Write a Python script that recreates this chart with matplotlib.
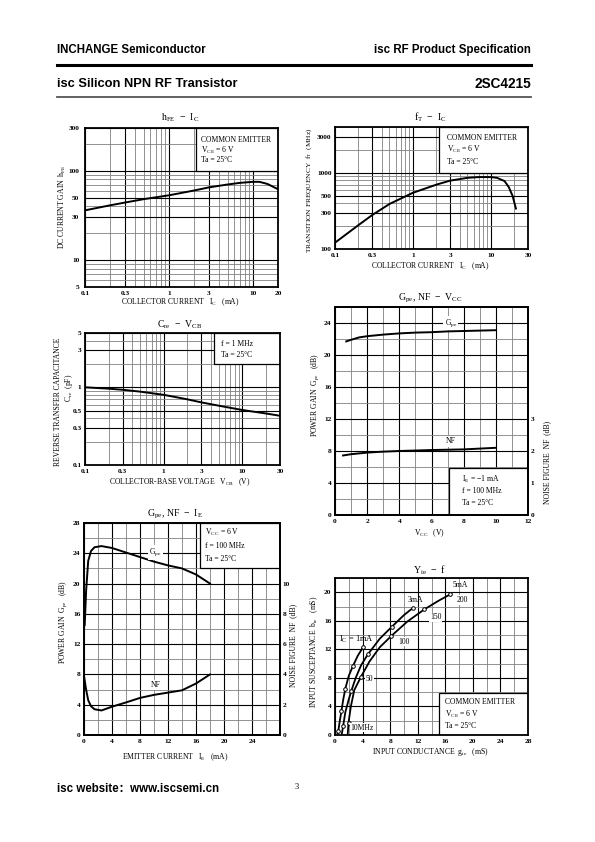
import numpy as np
import matplotlib
matplotlib.use('Agg')
import matplotlib.pyplot as plt
from matplotlib.patches import Rectangle
from matplotlib.ticker import FixedLocator, NullFormatter, FixedFormatter

plt.rcParams['font.family'] = ['Liberation Serif', 'DejaVu Serif']
plt.rcParams['mathtext.fontset'] = 'stix'

# ---------------- data ----------------
# hFE - IC
hfe_ic = [0.1, 0.2, 0.3, 0.5, 1, 2, 3, 5, 7, 10, 12, 15, 20]
hfe_val = [36, 41, 44, 48, 53, 60, 65, 70, 73, 75, 75, 71, 62]
# fT - IC
ft_ic = [0.1, 0.2, 0.3, 0.5, 1, 2, 3, 5, 7, 10, 12, 15, 17, 19, 21]
ft_val = [121, 206, 279, 390, 547, 700, 790, 860, 880, 880, 860, 780, 650, 500, 340]
# Cre - VCB
cre_vcb = [0.1, 0.2, 0.3, 0.5, 1, 2, 3, 5, 10, 20, 30]
cre_val = [1.0, 0.96, 0.93, 0.88, 0.80, 0.70, 0.64, 0.58, 0.51, 0.46, 0.43]
# Gpe, NF - VCC
vcc_g = [0.7, 1, 1.5, 2, 3, 4, 5, 6, 7, 8, 9, 10]
gpe_vcc = [21.7, 21.9, 22.2, 22.35, 22.55, 22.7, 22.8, 22.85, 22.95, 23.0, 23.05, 23.1]
vcc_nf = [0.5, 1, 2, 3, 4, 6, 8, 10]
nf_vcc = [1.86, 1.9, 1.95, 1.98, 2.0, 2.03, 2.05, 2.1]
# Gpe, NF - IE
ie_g = [0.1, 0.3, 0.6, 1, 1.5, 2.5, 4, 6, 8, 10, 12, 14, 16, 18]
gpe_ie = [14.5, 19.0, 23.0, 24.3, 24.8, 24.95, 24.7, 24.1, 23.5, 22.9, 22.4, 22.0, 21.2, 20.0]
ie_nf = [0.0, 0.3, 0.6, 1, 1.5, 2.5, 4, 6, 8, 10, 12, 14, 16, 18]
nf_ie = [3.9, 3.0, 2.3, 1.9, 1.7, 1.62, 1.87, 2.15, 2.45, 2.65, 2.8, 2.95, 3.4, 4.0]
# Yie - f  (gie, bie) curves for IC = 1, 3, 5 mA
g_1ma = [0.37, 0.47, 0.7, 0.94, 1.2, 1.5, 2.0, 2.57, 3.3, 4.07]
b_1ma = [0.2, 0.5, 2.0, 3.4, 5.0, 6.5, 8.3, 9.6, 11.1, 12.3]
g_3ma = [1.0, 1.17, 1.5, 2.0, 2.34, 3.0, 3.8, 4.77, 6.5, 8.28, 10.0, 11.3]
b_3ma = [0.2, 1.2, 3.2, 5.0, 6.1, 8.0, 9.8, 11.3, 13.5, 15.2, 16.8, 17.8]
g_5ma = [1.85, 1.96, 2.3, 2.8, 3.74, 5.0, 6.5, 8.19, 10.5, 12.96, 15.0, 16.7]
b_5ma = [0.2, 1.7, 4.0, 6.3, 8.1, 10.3, 12.3, 13.9, 15.9, 17.6, 18.8, 19.7]
# frequency markers (10, 50, 100, 150, 200 MHz)
mk_g_1ma = [0.47, 0.94, 1.5, 2.57, 4.07]
mk_b_1ma = [0.5, 3.4, 6.5, 9.6, 12.3]
mk_g_3ma = [1.17, 2.34, 4.77, 8.28, 11.3]
mk_b_3ma = [1.2, 6.1, 11.3, 15.2, 17.8]
mk_g_5ma = [1.96, 3.74, 8.19, 12.96, 16.7]
mk_b_5ma = [1.7, 8.1, 13.9, 17.6, 19.7]

fig = plt.figure(figsize=(5.95, 8.42), dpi=100)

def px_axes(l, t, r, b):
    return fig.add_axes([l / 595, 1 - b / 842, (r - l) / 595, (b - t) / 842])

def T(x, y, s, **kw):
    kw.setdefault('ha', 'center')
    kw.setdefault('va', 'center')
    fig.text(x / 595, 1 - y / 842, s, **kw)

def log_minor(lo, hi):
    vals = []
    for e in range(-3, 5):
        for m in range(1, 10):
            v = m * 10.0 ** e
            if lo - 1e-9 <= v <= hi + 1e-9:
                vals.append(v)
    return vals

def style(ax, xmaj, xlab, ymaj, ylab, xmin, ymin):
    ax.xaxis.set_major_locator(FixedLocator(xmaj))
    ax.xaxis.set_major_formatter(FixedFormatter(xlab))
    ax.yaxis.set_major_locator(FixedLocator(ymaj))
    ax.yaxis.set_major_formatter(FixedFormatter(ylab))
    ax.xaxis.set_minor_locator(FixedLocator(xmin))
    ax.yaxis.set_minor_locator(FixedLocator(ymin))
    ax.xaxis.set_minor_formatter(NullFormatter())
    ax.yaxis.set_minor_formatter(NullFormatter())
    ax.grid(which='major', color='black', lw=0.8)
    ax.grid(which='minor', color='#808080', lw=0.6)
    ax.set_axisbelow(True)
    ax.tick_params(which='both', length=0, labelsize=5.3)
    ax.tick_params(axis='x', pad=3)
    ax.tick_params(axis='y', pad=2.5)
    for s in ax.spines.values():
        s.set_linewidth(1.3)
    for lab in ax.get_xticklabels() + ax.get_yticklabels():
        lab.set_fontweight('bold')

def box(ax, x0, y0, x1, y1):
    ax.add_patch(Rectangle((x0, y0), x1 - x0, y1 - y0, facecolor='white',
                           edgecolor='black', lw=0.9, zorder=1.5))

FS = 5.5

# ---------------- header / footer ----------------
hdr = ['Liberation Sans', 'DejaVu Sans']
T(57, 50, 'INCHANGE Semiconductor', ha='left', family=hdr, weight='bold', fontsize=8.3)
T(531, 50, 'isc RF Product Specification', ha='right', family=hdr, weight='bold', fontsize=8.3)
fig.add_artist(plt.Line2D([57 / 595, 531 / 595], [1 - 65 / 842] * 2, color='black', lw=2.2))
T(57, 84, 'isc Silicon NPN RF Transistor', ha='left', family=hdr, weight='bold', fontsize=9.3)
T(531, 84, '2SC4215', ha='right', family=hdr, weight='bold', fontsize=9.8)
fig.add_artist(plt.Line2D([57 / 595, 531 / 595], [1 - 97 / 842] * 2, color='#555555', lw=1.3))
T(57, 789, 'isc website：www.iscsemi.cn', ha='left',
  family=['Liberation Sans', 'Noto Sans CJK SC'], weight='bold', fontsize=8.3)
T(297, 787, '3', fontsize=6)

# ---------------- chart 1: hFE - IC ----------------
ax = px_axes(85, 128, 278, 287)
ax.set_xscale('log'); ax.set_yscale('log')
ax.set_xlim(0.1, 20); ax.set_ylim(5, 300)
style(ax, [0.1, 0.3, 1, 3, 10, 20], ['0.1', '0.3', '1', '3', '10', '20'],
      [5, 10, 30, 50, 100, 300], ['5', '10', '30', '50', '100', '300'],
      log_minor(0.1, 20), log_minor(5, 300))
ax.tick_params(axis='y', pad=4)
box(ax, 2.12, 100, 20, 300)
ax.plot(hfe_ic, hfe_val, color='black', lw=1.4, zorder=3)
ax.text(2.4, 221, 'COMMON EMITTER', fontsize=FS, va='center', zorder=4)
ax.text(2.4, 168, r'V$_\mathregular{CE}$ = 6 V', fontsize=FS, va='center', zorder=4)
ax.text(2.4, 132, 'Ta = 25°C', fontsize=FS, va='center', zorder=4)
T(180, 118, r'h$_\mathregular{FE}$  −  I$_\mathregular{C}$', fontsize=7)
T(62, 207, r'DC CURRENT GAIN  h$_\mathregular{FE}$', fontsize=FS, rotation=90)
T(180, 302, r'COLLECTOR CURRENT   I$_\mathregular{C}$   (mA)', fontsize=FS)

# ---------------- chart 2: fT - IC ----------------
ax = px_axes(335, 127, 528, 249)
ax.set_xscale('log'); ax.set_yscale('log')
ax.set_xlim(0.1, 30); ax.set_ylim(100, 4000)
style(ax, [0.1, 0.3, 1, 3, 10, 30], ['0.1', '0.3', '1', '3', '10', '30'],
      [100, 300, 500, 1000, 3000], ['100', '300', '500', '1000', '3000'],
      log_minor(0.1, 30), log_minor(100, 4000))
box(ax, 2.17, 1000, 30, 4000)
ax.plot(ft_ic, ft_val, color='black', lw=1.4, zorder=3)
ax.text(2.7, 2875, 'COMMON EMITTER', fontsize=FS, va='center', zorder=4)
ax.text(2.7, 2023, r'V$_\mathregular{CE}$ = 6 V', fontsize=FS, va='center', zorder=4)
ax.text(2.7, 1393, 'Ta = 25°C', fontsize=FS, va='center', zorder=4)
T(430, 117, r'f$_\mathregular{T}$  −  I$_\mathregular{C}$', fontsize=7)
T(309, 190, r'TRANSITION FREQUENCY  f$_\mathregular{T}$  (MHz)', fontsize=5.3, rotation=90)
T(430, 266, r'COLLECTOR CURRENT   I$_\mathregular{C}$   (mA)', fontsize=FS)

# ---------------- chart 3: Cre - VCB ----------------
ax = px_axes(85, 333, 280, 465)
ax.set_xscale('log'); ax.set_yscale('log')
ax.set_xlim(0.1, 30); ax.set_ylim(0.1, 5)
style(ax, [0.1, 0.3, 1, 3, 10, 30], ['0.1', '0.3', '1', '3', '10', '30'],
      [0.1, 0.3, 0.5, 1, 3, 5], ['0.1', '0.3', '0.5', '1', '3', '5'],
      log_minor(0.1, 30), log_minor(0.1, 5))
box(ax, 4.3, 2, 30, 5)
ax.plot(cre_vcb, cre_val, color='black', lw=1.4, zorder=3)
ax.text(5.4, 3.6, 'f = 1 MHz', fontsize=FS, va='center', zorder=4)
ax.text(5.4, 2.58, 'Ta = 25°C', fontsize=FS, va='center', zorder=4)
T(180, 325, r'C$_\mathregular{re}$  −  V$_\mathregular{CB}$', fontsize=7)
T(58, 402, 'REVERSE TRANSFER CAPACITANCE', fontsize=FS, rotation=90)
T(69, 388, r'C$_\mathregular{re}$  (pF)', fontsize=FS, rotation=90)
T(180, 482, r'COLLECTOR-BASE VOLTAGE   V$_\mathregular{CB}$   (V)', fontsize=FS)

# ---------------- chart 4: Gpe, NF - VCC ----------------
ax = px_axes(335, 307, 528, 515)
ax.set_xlim(0, 12); ax.set_ylim(0, 26)
style(ax, list(range(0, 13, 2)), [str(v) for v in range(0, 13, 2)],
      list(range(0, 25, 4)), [str(v) for v in range(0, 25, 4)],
      list(range(0, 13)), list(range(0, 27, 2)))
box(ax, 7.1, 0, 12, 5.9)
ax.plot(vcc_g, gpe_vcc, color='black', lw=1.4, zorder=3)
ax.text(7.2, 24, r'G$_\mathregular{pe}$', fontsize=FS, ha='center', va='center', zorder=4,
        bbox=dict(facecolor='white', edgecolor='none', pad=0.8))
ax.text(7.2, 9.2, 'NF', fontsize=FS, ha='center', va='center', zorder=4,
        bbox=dict(facecolor='white', edgecolor='none', pad=0.8))
ax.text(7.9, 4.5, r'I$_\mathregular{E}$ = −1 mA', fontsize=FS, va='center', zorder=4)
ax.text(7.9, 3.0, 'f = 100 MHz', fontsize=FS, va='center', zorder=4)
ax.text(7.9, 1.5, 'Ta = 25°C', fontsize=FS, va='center', zorder=4)
ax2 = ax.twinx()
ax2.set_ylim(0, 6.5)
ax2.set_yticks([0, 1, 2, 3])
ax2.set_yticklabels(['0', '1', '2', '3'])
ax2.tick_params(length=0, labelsize=5.3, pad=2)
for lab in ax2.get_yticklabels():
    lab.set_fontweight('bold')
for s in ax2.spines.values():
    s.set_linewidth(1.3)
ax2.plot(vcc_nf, nf_vcc, color='black', lw=1.4, zorder=3)
T(430, 298, r'G$_\mathregular{pe}$, NF  −  V$_\mathregular{CC}$', fontsize=7)
T(315, 395, r'POWER GAIN  G$_\mathregular{pe}$   (dB)', fontsize=FS, rotation=90)
T(547, 462, r'NOISE FIGURE  NF  (dB)', fontsize=FS, rotation=90)
T(430, 533, r'V$_\mathregular{CC}$   (V)', fontsize=FS)

# ---------------- chart 5: Gpe, NF - IE ----------------
ax = px_axes(84, 523, 280, 735)
ax.set_xlim(0, 28); ax.set_ylim(0, 28)
style(ax, list(range(0, 25, 4)), [str(v) for v in range(0, 25, 4)],
      list(range(0, 29, 4)), [str(v) for v in range(0, 29, 4)],
      list(range(0, 29, 2)), list(range(0, 29, 2)))
box(ax, 16.5, 22, 28, 28)
ax.plot(ie_g, gpe_ie, color='black', lw=1.4, zorder=3)
ax.text(10.2, 24.1, r'G$_\mathregular{pe}$', fontsize=FS, ha='center', va='center', zorder=4,
        bbox=dict(facecolor='white', edgecolor='none', pad=0.8))
ax.text(17.3, 26.7, r'V$_\mathregular{CC}$ = 6 V', fontsize=FS, va='center', zorder=4)
ax.text(17.3, 25.0, 'f = 100 MHz', fontsize=FS, va='center', zorder=4)
ax.text(17.3, 23.3, 'Ta = 25°C', fontsize=FS, va='center', zorder=4)
ax2 = ax.twinx()
ax2.set_ylim(0, 14)
ax2.set_yticks([0, 2, 4, 6, 8, 10])
ax2.set_yticklabels(['0', '2', '4', '6', '8', '10'])
ax2.tick_params(length=0, labelsize=5.3, pad=2)
for lab in ax2.get_yticklabels():
    lab.set_fontweight('bold')
for s in ax2.spines.values():
    s.set_linewidth(1.3)
ax2.plot(ie_nf, nf_ie, color='black', lw=1.4, zorder=3)
ax2.text(10.2, 3.3, 'NF', fontsize=FS, ha='center', va='center', zorder=4,
         bbox=dict(facecolor='white', edgecolor='none', pad=0.8))
T(175, 514, r'G$_\mathregular{pe}$, NF  −  I$_\mathregular{E}$', fontsize=7)
T(63, 622, r'POWER GAIN  G$_\mathregular{pe}$   (dB)', fontsize=FS, rotation=90)
T(293, 645, r'NOISE FIGURE  NF  (dB)', fontsize=FS, rotation=90)
T(175, 757, r'EMITTER CURRENT   I$_\mathregular{E}$   (mA)', fontsize=FS)

# ---------------- chart 6: Yie - f ----------------
ax = px_axes(335, 578, 528, 735)
ax.set_xlim(0, 28); ax.set_ylim(0, 22)
style(ax, list(range(0, 29, 4)), [str(v) for v in range(0, 29, 4)],
      list(range(0, 21, 4)), [str(v) for v in range(0, 21, 4)],
      list(range(0, 29, 2)), list(range(0, 23, 2)))
box(ax, 15.1, 0, 28, 5.9)
for g, b in [(g_1ma, b_1ma), (g_3ma, b_3ma), (g_5ma, b_5ma)]:
    ax.plot(g, b, color='black', lw=1.3, zorder=3)
for g, b in [(mk_g_1ma, mk_b_1ma), (mk_g_3ma, mk_b_3ma), (mk_g_5ma, mk_b_5ma)]:
    ax.plot(g, b, ls='none', marker='o', ms=2.6, mfc='white', mec='black', mew=0.7, zorder=4)
ax.text(3.1, 13.4, r'I$_\mathregular{C}$ = 1mA', fontsize=6, ha='center', va='center', zorder=4)
ax.text(11.7, 18.9, '3mA', fontsize=FS, ha='center', va='center', zorder=4)
ax.text(18.2, 21.0, '5mA', fontsize=FS, ha='center', va='center', zorder=4)
ax.text(18.4, 18.9, '200', fontsize=FS, ha='center', va='center', zorder=4,
        bbox=dict(facecolor='white', edgecolor='none', pad=0.5))
ax.text(14.6, 16.5, '150', fontsize=FS, ha='center', va='center', zorder=4,
        bbox=dict(facecolor='white', edgecolor='none', pad=0.5))
ax.text(10.0, 13.1, '100', fontsize=FS, ha='center', va='center', zorder=4,
        bbox=dict(facecolor='white', edgecolor='none', pad=0.5))
ax.text(5.0, 7.9, '50', fontsize=FS, ha='center', va='center', zorder=4,
        bbox=dict(facecolor='white', edgecolor='none', pad=0.5))
ax.text(3.9, 1.05, '10MHz', fontsize=FS, ha='center', va='center', zorder=4,
        bbox=dict(facecolor='white', edgecolor='none', pad=0.5))
ax.text(16.0, 4.6, 'COMMON EMITTER', fontsize=FS, va='center', zorder=4)
ax.text(16.0, 2.9, r'V$_\mathregular{CE}$ = 6 V', fontsize=FS, va='center', zorder=4)
ax.text(16.0, 1.3, 'Ta = 25°C', fontsize=FS, va='center', zorder=4)
T(430, 570, r'Y$_\mathregular{ie}$  −  f', fontsize=7)
T(314, 652, r'INPUT SUSCEPTANCE  b$_\mathregular{ie}$   (mS)', fontsize=FS, rotation=90)
T(430, 752, r'INPUT CONDUCTANCE  g$_\mathregular{ie}$   (mS)', fontsize=FS)

fig.savefig('out.png', dpi=100, facecolor='white')
